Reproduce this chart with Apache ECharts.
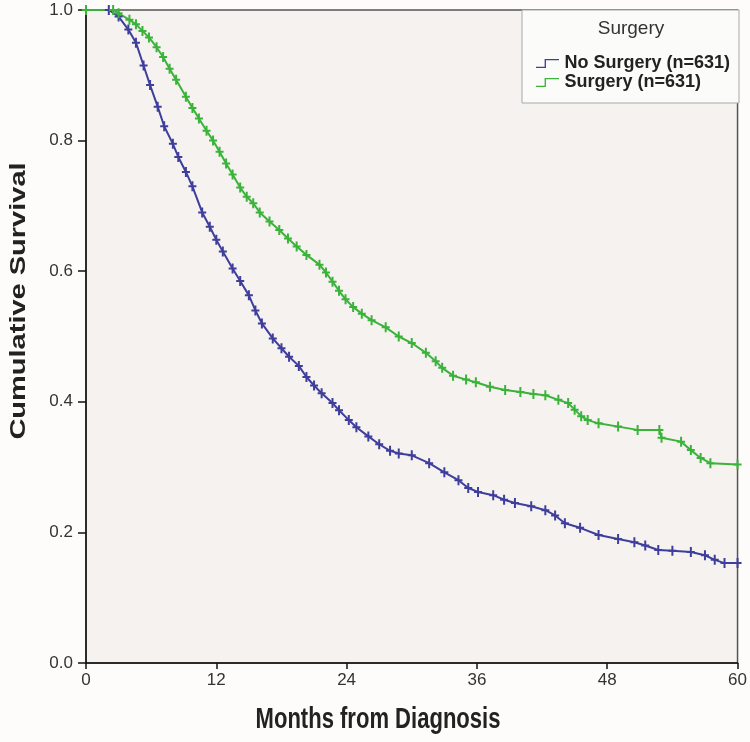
<!DOCTYPE html>
<html>
<head>
<meta charset="utf-8">
<script src="https://cdn.jsdelivr.net/npm/echarts@6/dist/echarts.min.js"></script>
<style>
html,body{margin:0;padding:0;background:#fdfcfb;}
#chart{width:750px;height:742px;}
</style>
</head>
<body>
<div id="chart"></div>
<script>
// Months from diagnosis vs cumulative survival
var noSurgery = [
  [0,1.0],[2.1,1.0],[3.0,0.99],[3.9,0.97],[4.6,0.95],[5.3,0.915],[5.9,0.885],[6.6,0.852],
  [7.2,0.822],[8.0,0.795],[8.5,0.775],[9.2,0.752],[9.8,0.73],[10.7,0.69],[11.4,0.668],
  [12.0,0.648],[12.6,0.63],[13.5,0.604],[14.2,0.585],[15.0,0.563],[15.6,0.54],[16.2,0.52],
  [17.2,0.497],[18.0,0.482],[18.7,0.469],[19.6,0.455],[20.3,0.438],[21.0,0.425],[21.7,0.413],
  [22.7,0.398],[23.3,0.387],[24.2,0.372],[24.9,0.361],[26.0,0.347],[27.0,0.335],[28.0,0.325],
  [28.8,0.321],[30.0,0.318],[31.6,0.306],[33.0,0.292],[34.3,0.28],[35.2,0.268],[36.1,0.262],
  [37.5,0.257],[38.5,0.25],[39.5,0.245],[41.0,0.24],[42.3,0.234],[43.2,0.226],[44.1,0.214],
  [45.5,0.207],[47.2,0.196],[49.0,0.19],[50.5,0.185],[51.5,0.18],[52.7,0.173],[54.0,0.172],
  [55.7,0.17],[57.0,0.165],[57.9,0.158],[58.8,0.153],[60,0.153]
];
var surgery = [
  [0,1.0],[2.5,1.0],[3.0,0.995],[4.0,0.985],[4.6,0.978],[5.2,0.968],[5.8,0.958],[6.5,0.943],
  [7.1,0.928],[7.7,0.91],[8.3,0.893],[9.2,0.867],[9.8,0.85],[10.4,0.834],[11.1,0.815],
  [11.7,0.8],[12.3,0.783],[12.9,0.765],[13.5,0.748],[14.2,0.728],[14.8,0.714],[15.4,0.704],
  [16.0,0.69],[16.9,0.676],[17.8,0.663],[18.6,0.65],[19.4,0.638],[20.3,0.625],[21.5,0.61],
  [22.1,0.598],[22.7,0.584],[23.3,0.57],[23.9,0.557],[24.6,0.545],[25.4,0.535],[26.3,0.525],
  [27.6,0.514],[28.8,0.5],[30.0,0.49],[31.3,0.475],[32.2,0.462],[32.8,0.452],[33.8,0.44],
  [35.0,0.434],[35.9,0.43],[37.2,0.423],[38.6,0.418],[40.0,0.415],[41.2,0.412],[42.3,0.41],
  [43.5,0.403],[44.4,0.398],[45.0,0.388],[45.6,0.378],[46.2,0.372],[47.2,0.367],[49.0,0.362],
  [50.8,0.357],[52.8,0.357],[53.0,0.345],[54.8,0.339],[55.7,0.326],[56.6,0.314],[57.5,0.306],
  [60,0.304]
];
var seriesNames = ['No Surgery (n=631)', 'Surgery (n=631)'];
var xTicks = [0, 12, 24, 36, 48, 60];
var yTicks = [0.0, 0.2, 0.4, 0.6, 0.8, 1.0];
var legendTitle = 'Surgery';
var xTitle = 'Months from Diagnosis';
var yTitle = 'Cumulative Survival';

var plusPath = 'path://M3,0 L5,0 L5,4 L8,4 L8,6 L5,6 L5,10 L3,10 L3,6 L0,6 L0,4 L3,4 Z';
var stepIcon = 'path://M0,8 L9,8 L9,0 L24,0 L24,1.4 L10.4,1.4 L10.4,9.4 L0,9.4 Z';

var chart = echarts.init(document.getElementById('chart'), null, {renderer: 'canvas'});
var option = {
  animation: false,
  backgroundColor: '#fdfcfb',
  grid: {left: 86, right: 10, top: 10, bottom: 79, show: true,
         backgroundColor: '#f5f2ef', borderColor: '#555', borderWidth: 1.5},
  xAxis: {
    type: 'value', min: xTicks[0], max: xTicks[xTicks.length - 1], interval: 12,
    axisLine: {show: true, onZero: false, lineStyle: {color: '#111', width: 1.5}},
    axisTick: {show: true, length: 6, lineStyle: {color: '#111', width: 1.5}},
    axisLabel: {color: '#333', fontSize: 17, fontFamily: 'Liberation Sans', margin: 9},
    splitLine: {show: false}
  },
  yAxis: {
    type: 'value', min: 0, max: 1, interval: 0.2,
    axisLine: {show: true, onZero: false, lineStyle: {color: '#111', width: 1.5}},
    axisTick: {show: true, length: 8, lineStyle: {color: '#111', width: 1.5}},
    axisLabel: {color: '#333', fontSize: 17, fontFamily: 'Liberation Sans', margin: 13,
                formatter: function (v) { return v.toFixed(1); }},
    splitLine: {show: false}
  },
  legend: {
    orient: 'vertical', left: 536, top: 54, padding: 0, itemGap: 0,
    itemWidth: 24, itemHeight: 9,
    data: [{name: seriesNames[0], icon: stepIcon}, {name: seriesNames[1], icon: stepIcon}],
    textStyle: {fontSize: 18, fontWeight: 'bold', fontFamily: 'Liberation Sans',
                color: '#222', lineHeight: 19, padding: [0, 0, 0, 0]}
  },
  graphic: [
    {type: 'rect', z: 1, shape: {x: 522, y: 10, width: 217, height: 93},
     style: {fill: '#fbfbfa', stroke: '#a8a8a8', lineWidth: 1}},
    {type: 'text', z: 2, x: 631, y: 29,
     style: {text: legendTitle, fontSize: 19, fontFamily: 'Liberation Sans', fill: '#333',
             align: 'center', verticalAlign: 'middle', textAlign: 'center', textVerticalAlign: 'middle'}},
    {type: 'text', z: 2, x: 378, y: 720, scaleX: 0.76,
     style: {text: xTitle, fontSize: 29, fontWeight: 'bold', fontFamily: 'Liberation Sans', fill: '#222',
             align: 'center', verticalAlign: 'middle', textAlign: 'center', textVerticalAlign: 'middle'}},
    {type: 'text', z: 2, x: 19, y: 301, rotation: Math.PI / 2, scaleY: 0.76,
     style: {text: yTitle, fontSize: 29, fontWeight: 'bold', fontFamily: 'Liberation Sans', fill: '#222',
             align: 'center', verticalAlign: 'middle', textAlign: 'center', textVerticalAlign: 'middle'}}
  ],
  series: [
    {name: seriesNames[0], type: 'line', data: noSurgery, z: 3,
     symbol: plusPath, symbolSize: [8, 10], showSymbol: true,
     lineStyle: {color: '#3e3e9c', width: 2}, itemStyle: {color: '#3e3e9c'}},
    {name: seriesNames[1], type: 'line', data: surgery, z: 3,
     symbol: plusPath, symbolSize: [8, 10], showSymbol: true,
     lineStyle: {color: '#3bb33b', width: 2}, itemStyle: {color: '#3bb33b'}}
  ]
};
chart.setOption(option);
</script>
</body>
</html>
